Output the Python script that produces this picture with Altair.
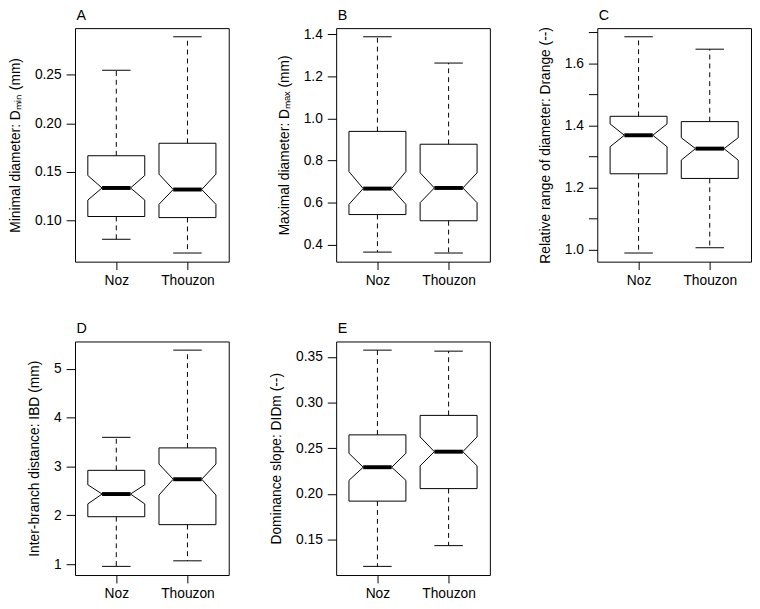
import altair as alt
import pandas as pd

groups = ["Noz", "Thouzon"]
positions = [1, 2]

# stats per box: [whisker_low, q1, notch_low, median, notch_high, q3, whisker_high]
a_noz = [0.0802, 0.1037, 0.1207, 0.1332, 0.1461, 0.1665, 0.2548]
a_thou = [0.0660, 0.1026, 0.1163, 0.1316, 0.1475, 0.1794, 0.2894]
b_noz = [0.365, 0.5435, 0.592, 0.667, 0.748, 0.939, 1.389]
b_thou = [0.3606, 0.514, 0.600, 0.670, 0.742, 0.878, 1.264]
c_noz = [0.989, 1.244, 1.331, 1.368, 1.4045, 1.429, 1.685]
c_thou = [1.006, 1.229, 1.288, 1.325, 1.360, 1.412, 1.645]
d_noz = [0.954, 1.970, 2.232, 2.434, 2.624, 2.919, 3.594]
d_thou = [1.068, 1.808, 2.414, 2.737, 3.048, 3.378, 5.378]
e_noz = [0.1208, 0.1922, 0.2149, 0.2293, 0.2445, 0.2647, 0.3574]
e_thou = [0.1435, 0.2059, 0.2308, 0.2463, 0.2625, 0.2860, 0.3563]

letters = ["A", "B", "C", "D", "E"]
titles = [
    "Minimal diameter: D\u2098\u1d62\u2099 (mm)",
    "Maximal diameter: D\u2098\u2090\u2093 (mm)",
    "Relative range of diameter: Drange (--)",
    "Inter-branch distance: IBD (mm)",
    "Dominance slope: DIDm (--)",
]
ticks = [
    [0.10, 0.15, 0.20, 0.25],
    [0.4, 0.6, 0.8, 1.0, 1.2, 1.4],
    [1.0, 1.1, 1.2, 1.3, 1.4, 1.5, 1.6, 1.7],
    [1, 2, 3, 4, 5],
    [0.15, 0.20, 0.25, 0.30, 0.35],
]
label_exprs = [
    "format(datum.value, '.2f')",
    "format(datum.value, '.1f')",
    "round(datum.value*10) % 2 == 0 ? format(datum.value, '.1f') : ''",
    "format(datum.value, 'd')",
    "format(datum.value, '.2f')",
]
stats = [(a_noz, a_thou), (b_noz, b_thou), (c_noz, c_thou), (d_noz, d_thou), (e_noz, e_thou)]

HALF = 0.4     # half box width (boxwex 0.8)
NOTCH = 0.5    # notch fraction
STAPLE = 0.5   # staple fraction
FONT = "Liberation Sans"


def panel(letter, title, tvals, lexpr, st):
    outline, whisk, caps, meds = [], [], [], []
    for g, pos, s in zip(groups, positions, st):
        wl, q1, nl, md, nh, q3, wh = s
        shape = [(-1, q1), (1, q1), (1, nl), (NOTCH, md), (1, nh), (1, q3),
                 (-1, q3), (-1, nh), (-NOTCH, md), (-1, nl), (-1, q1)]
        for i, (f, v) in enumerate(shape):
            outline.append({"x": pos + f * HALF, "y": v, "order": i, "group": g})
        whisk.append({"x": pos, "y": q3, "y2": wh, "group": g})
        whisk.append({"x": pos, "y": q1, "y2": wl, "group": g})
        caps.append({"x": pos - STAPLE * HALF, "x2": pos + STAPLE * HALF, "y": wh})
        caps.append({"x": pos - STAPLE * HALF, "x2": pos + STAPLE * HALF, "y": wl})
        meds.append({"x": pos - NOTCH * HALF, "x2": pos + NOTCH * HALF, "y": md})

    allv = [v for s in st for v in s]
    lo, hi = min(allv), max(allv)
    pad = 0.04 * (hi - lo)
    xs = alt.Scale(domain=[0.42, 2.58], nice=False, zero=False)
    ys = alt.Scale(domain=[lo - pad, hi + pad], nice=False, zero=False)

    xaxis = alt.Axis(values=positions, labelExpr="datum.value == 1 ? 'Noz' : 'Thouzon'",
                     title=None, domain=False, grid=False, tickSize=8, labelPadding=4,
                     labelFlush=False, labelOverlap=False)
    yaxis = alt.Axis(values=tvals, labelExpr=lexpr, title=title, domain=False, grid=False,
                     tickSize=9, labelPadding=5, labelFlush=False, labelOverlap=False,
                     titlePadding=12)
    X = alt.X("x:Q", scale=xs, axis=xaxis)
    Y = alt.Y("y:Q", scale=ys, axis=yaxis)

    box = alt.Chart(pd.DataFrame(outline)).mark_line(
        color="black", strokeWidth=1, strokeJoin="miter"
    ).encode(x=X, y=Y, order="order:Q", detail="group:N")
    wk = alt.Chart(pd.DataFrame(whisk)).mark_rule(
        color="black", strokeWidth=1, strokeDash=[5, 4]
    ).encode(x=X, y=Y, y2="y2:Q")
    cp = alt.Chart(pd.DataFrame(caps)).mark_rule(color="black", strokeWidth=1).encode(
        x=X, x2="x2:Q", y=Y)
    md = alt.Chart(pd.DataFrame(meds)).mark_rule(color="black", strokeWidth=4, strokeCap="butt").encode(
        x=X, x2="x2:Q", y=Y)
    lab = alt.Chart(pd.DataFrame({"t": [letter]})).mark_text(
        align="left", baseline="alphabetic", fontSize=14.5, font=FONT, color="black"
    ).encode(text="t:N", x=alt.value(1.5), y=alt.value(-8.5))

    return alt.layer(box, wk, cp, md, lab).properties(width=156, height=237)


charts = [panel(*args) for args in zip(letters, titles, ticks, label_exprs, stats)]

chart = alt.concat(*charts, columns=3, bounds="flush",
                   spacing={"row": 81, "column": 109}).properties(
    padding={"left": 0, "top": -5, "right": 0, "bottom": 0},
    background="white",
).configure_view(
    stroke="black", strokeWidth=1
).configure_axis(
    labelFont=FONT, titleFont=FONT, labelFontSize=14, titleFontSize=14,
    labelColor="black", titleColor="black", tickColor="black", tickWidth=1,
    titleFontWeight="normal",
)

chart.save("out.html", embed_options={"renderer": "svg", "actions": False})
